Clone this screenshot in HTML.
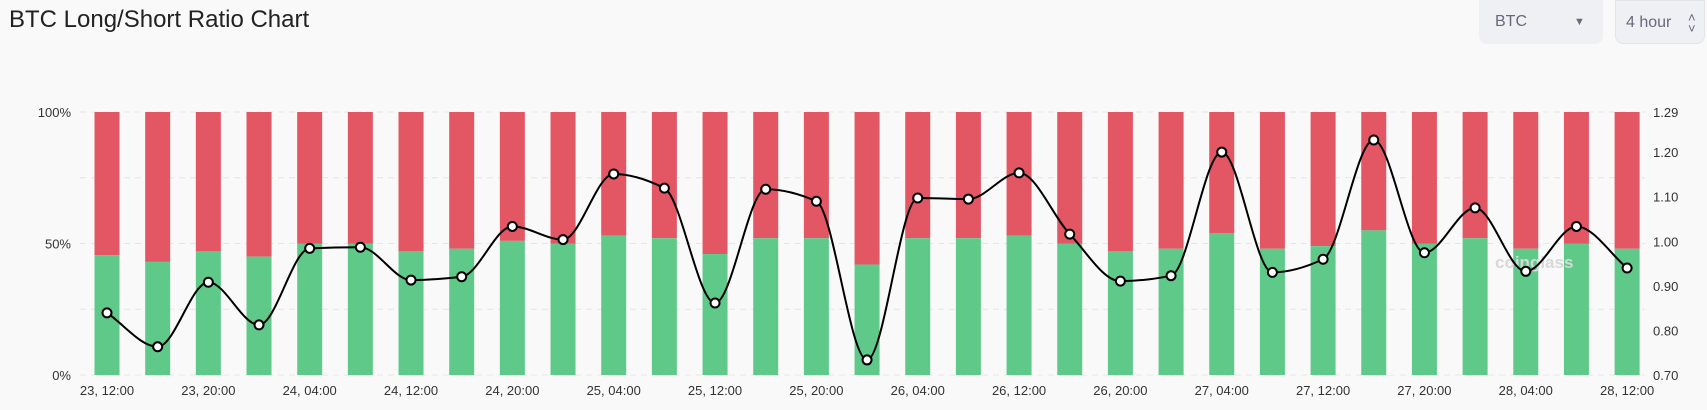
<!DOCTYPE html>
<html><head><meta charset="utf-8"><style>
html,body{margin:0;padding:0;background:#f9f9f9;}
body{width:1707px;height:410px;position:relative;overflow:hidden;font-family:"Liberation Sans",sans-serif;}
.title{position:absolute;left:9px;top:6px;font-size:24px;color:#222;}
.sel{position:absolute;top:0;height:44px;background:#eff0f4;border-radius:0 0 8px 8px;color:#666a7a;font-size:16px;line-height:44px;}
</style></head><body>
<div class="title">BTC Long/Short Ratio Chart</div>
<div class="sel" style="left:1479px;width:124px;"><span style="position:absolute;left:16px">BTC</span><span style="position:absolute;left:95px;top:0;font-size:11px">▼</span></div>
<div class="sel" style="left:1615px;width:90px;border:1px solid #e4e5ea;box-sizing:border-box;"><span style="position:absolute;left:10px">4 hour</span><span style="position:absolute;left:72px;top:-1px;font-size:13px;line-height:11px;padding-top:12px">˄<br>˅</span></div>
<svg id="c" width="1707" height="410" style="position:absolute;left:0;top:0" xmlns="http://www.w3.org/2000/svg"></svg>
<script>
const S=1.094, svg=document.getElementById('c');
let h='';
const y0=375,y100=112;
for(let k=0;k<=4;k++){const y=y100+(y0-y100)*k/4;h+=`<line x1="80" x2="1645" y1="${y}" y2="${y}" stroke="#e6e6e6" stroke-dasharray="6,5"/>`;}
[['100%',y100],['50%',(y0+y100)/2],['0%',y0]].forEach(([t,y])=>h+=`<text x="71" y="${y+5}" text-anchor="end" font-size="13" fill="#333">${t}</text>`);
const ry=v=>y0-(v-0.7)/0.59*(y0-y100);
[1.29,1.2,1.1,1.0,0.9,0.8,0.7].forEach(v=>h+=`<text x="1653" y="${ry(v)+5}" font-size="13" fill="#333">${v.toFixed(2)}</text>`);
const L=[45.6,43,47,45,50,50,47,48,51,50,53,52,46,52,52,42,52,52,53,50,47,48,54,48,49,55,50,52,48,50,48];
const R=[286,317,258,297,227,226,256,253,207,219,159,172,277,173,184,329,181,182,158,214,257,252,139,249,237,128,231,190,248,207,245];
const cx=i=>107+50.67*i, bw=25;
L.forEach((p,i)=>{const yt=y0-(y0-y100)*p/100;
h+=`<rect x="${cx(i)-bw/2}" y="${y100}" width="${bw}" height="${yt-y100}" fill="#e35664"/>`;
h+=`<rect x="${cx(i)-bw/2}" y="${yt}" width="${bw}" height="${y0-yt}" fill="#5fc98a"/>`;});
const labs=['23, 12:00','23, 20:00','24, 04:00','24, 12:00','24, 20:00','25, 04:00','25, 12:00','25, 20:00','26, 04:00','26, 12:00','26, 20:00','27, 04:00','27, 12:00','27, 20:00','28, 04:00','28, 12:00'];
labs.forEach((t,k)=>h+=`<text x="${cx(2*k)}" y="395" text-anchor="middle" font-size="13" fill="#333">${t}</text>`);
h+=`<text x="1495" y="268" font-size="17" font-weight="bold" fill="#d8d8d8">coinglass</text>`;
// monotone cubic
const xs=R.map((_,i)=>cx(i)), ys=R.map(v=>v*S), n=xs.length;
const d=[],m=[];for(let i=0;i<n-1;i++)d.push((ys[i+1]-ys[i])/(xs[i+1]-xs[i]));
m[0]=d[0];m[n-1]=d[n-2];for(let i=1;i<n-1;i++){m[i]=(d[i-1]*d[i]<=0)?0:2/(1/d[i-1]+1/d[i]);}
let p=`M${xs[0]},${ys[0]}`;
for(let i=0;i<n-1;i++){const dx=(xs[i+1]-xs[i])/3;p+=`C${xs[i]+dx},${ys[i]+m[i]*dx} ${xs[i+1]-dx},${ys[i+1]-m[i+1]*dx} ${xs[i+1]},${ys[i+1]}`;}
h+=`<path d="${p}" fill="none" stroke="#000" stroke-width="2"/>`;
xs.forEach((x,i)=>h+=`<circle cx="${x}" cy="${ys[i]}" r="4.5" fill="#fff" stroke="#000" stroke-width="2"/>`);
svg.innerHTML=h;
</script>
</body></html>
